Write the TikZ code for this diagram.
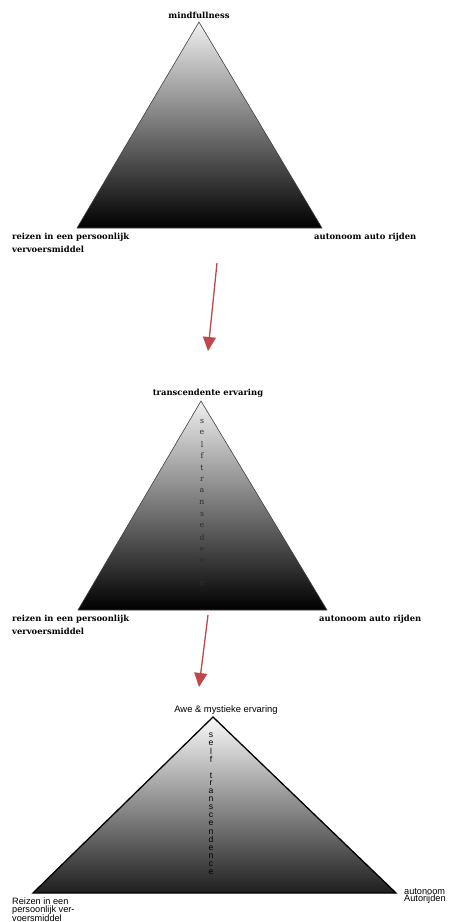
\documentclass[tikz,border=0pt]{standalone}
\usepackage{fontspec}
\setmainfont{DejaVu Serif}
\newfontfamily\lblsans{Liberation Sans}
\usetikzlibrary{arrows.meta}
\definecolor{arrowred}{HTML}{C0474A}
\tikzset{
  tri/.style={draw=black!75, line width=0.6pt, top color=black!6, middle color=black!40, bottom color=black},
  tribold/.style={draw=black, line width=1.3pt, top color=black!2, middle color=black!40, bottom color=black!88},
  lbl/.style={font=\fontsize{8.4}{12.5}\selectfont\bfseries, inner sep=0pt, align=left},
  sanslbl/.style={font=\lblsans\fontsize{9.2}{7.4}\selectfont, inner sep=0pt, align=left},
  vlet/.style={font=\fontsize{7.8}{8}\selectfont, text=black!82, inner sep=0pt},
  vsans/.style={font=\lblsans\fontsize{8.6}{8}\selectfont, text=black, inner sep=0pt},
  redarrow/.style={draw=arrowred, line width=1.3pt, -{Triangle[width=13pt,length=14pt]}, arrowred}
}
\begin{document}
\begin{tikzpicture}[x=1pt,y=-1pt]
\useasboundingbox (0,0) rectangle (450,922);
% Triangle 1
\coordinate (t1a) at (199,22);
\coordinate (t1l) at (77,228);
\coordinate (t1r) at (322,228);
\path[tri] (t1a) -- (t1l) -- (t1r) -- cycle;
\node[lbl, anchor=south] (m1) at (199,19) {mindfullness};
\node[lbl, anchor=north west] (l1) at (12,233) {reizen in een persoonlijk\\vervoersmiddel};
\node[lbl, anchor=north west] (r1) at (314,233) {autonoom auto rijden};
% Arrow 1
\coordinate (a1s) at (217,263);
\coordinate (a1e) at (208,351);
\draw[redarrow] (a1s) -- (a1e);
% Triangle 2
\coordinate (t2a) at (201,401);
\coordinate (t2l) at (78,610);
\coordinate (t2r) at (327,610);
\path[tri] (t2a) -- (t2l) -- (t2r) -- cycle;
\node[lbl, anchor=south] (m2) at (208,398) {transcendente ervaring};
\node[lbl, anchor=north west] (l2) at (12,615) {reizen in een persoonlijk\\vervoersmiddel};
\node[lbl, anchor=north west] (r2) at (319,615) {autonoom auto rijden};
\foreach \ch [count=\i from 0] in {s,e,l,f,t,r,a,n,s,e,d,e,n,c,e}
  \node[vlet] (v2-\i) at (202,{421+\i*11.64}) {\ch};
% Arrow 2
\coordinate (a2s) at (208,615);
\coordinate (a2e) at (199,687);
\draw[redarrow] (a2s) -- (a2e);
% Triangle 3
\coordinate (t3a) at (213,717);
\coordinate (t3l) at (33,893);
\coordinate (t3r) at (396,893);
\path[tribold] (t3a) -- (t3l) -- (t3r) -- cycle;
\node[font=\lblsans\fontsize{9.4}{10}\selectfont, inner sep=0pt, anchor=south] (m3) at (226,715) {Awe \& mystieke ervaring};
\node[sanslbl, anchor=north west] (l3) at (12,898) {Reizen in een\\persoonlijk ver-\\voersmiddel};
\node[sanslbl, anchor=north west] (r3) at (404,888) {autonoom\\Autorijden};
\foreach \ch [count=\i from 0] in {s,e,l,f,{},t,r,a,n,s,c,e,n,d,e,n,c,e}
  \node[vsans] (v3-\i) at (211,{735+\i*8.06}) {\ch};
\end{tikzpicture}
\end{document}
